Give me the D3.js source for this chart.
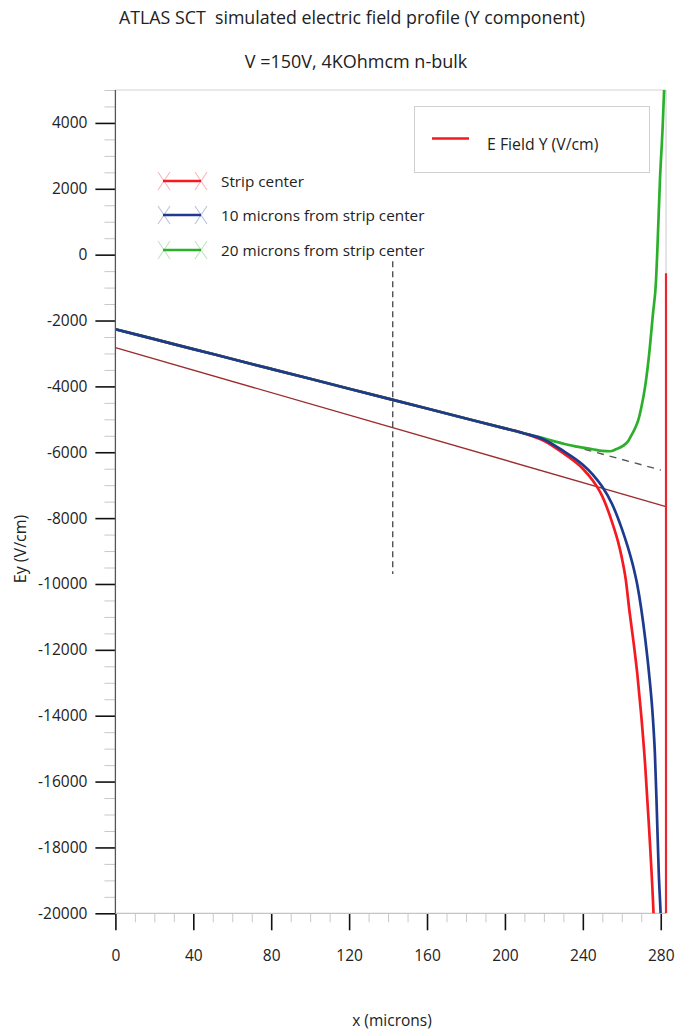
<!DOCTYPE html>
<html><head><meta charset="utf-8">
<script src="https://cdn.jsdelivr.net/npm/d3@7/dist/d3.min.js"></script>
<style>
body{margin:0;background:#fff}
text{font-family:"Open Sans",sans-serif;fill:#222;white-space:pre}
</style>
</head><body>
<svg id="chart" width="675" height="1030"></svg>
<script>
// ---------- data ----------
const titleLine1 = "ATLAS SCT  simulated electric field profile (Y component)";
const titleLine2 = "V =150V, 4KOhmcm n-bulk";
const xAxisTitle = "x (microns)";
const yAxisTitle = "Ey (V/cm)";

const xTicks = [0, 40, 80, 120, 160, 200, 240, 280];
const xTickLabels = ["0", "40", "80", "120", "160", "200", "240", "280"];
const yTicks = [4000, 2000, 0, -2000, -4000, -6000, -8000, -10000, -12000, -14000, -16000, -18000, -20000];
const yTickLabels = ["4000", "2000", "0", "-2000", "-4000", "-6000", "-8000", "-10000", "-12000", "-14000", "-16000", "-18000", "-20000"];

const seriesNames = ["Strip center", "10 microns from strip center", "20 microns from strip center"];
const boxLegendLabel = "E Field Y (V/cm)";

// strip center (red)
const stripX = [0, 20, 40, 60, 80, 100, 120, 140, 160, 180, 200, 210, 220, 230, 240, 245, 250, 255, 258, 260, 262, 264, 266, 268, 270, 272, 274, 276, 277];
const stripY = [-2265, -2566, -2867, -3168, -3469, -3770, -4071, -4372, -4673, -4974, -5275, -5430, -5650, -6030, -6500, -6850, -7340, -8120, -8700, -9200, -9850, -10850, -11750, -12750, -14000, -15500, -17400, -19600, -21000];
// strip center, edge of the sensor (red vertical)
const stripEdgeX = [282.7, 282.7];
const stripEdgeY = [-20000, -565];

// 10 microns from strip center (blue)
const tenX = [0, 20, 40, 60, 80, 100, 120, 140, 160, 180, 200, 210, 220, 230, 240, 245, 250, 255, 260, 263, 266, 268, 270, 272, 274, 276, 277, 278, 279, 280, 281];
const tenY = [-2265, -2566, -2867, -3168, -3469, -3770, -4071, -4372, -4673, -4974, -5275, -5430, -5610, -5960, -6380, -6670, -7050, -7570, -8320, -8860, -9500, -10040, -10760, -11650, -12720, -14100, -15150, -16900, -18800, -20100, -22000];

// 20 microns from strip center (green)
const twentyX = [0, 20, 40, 60, 80, 100, 120, 140, 160, 180, 200, 210, 220, 230, 237, 245, 250, 254, 257, 261, 263.5, 265, 267, 268.5, 270, 272, 274, 276, 277.6, 278.3, 279.6, 281, 281.7, 282.2];
const twentyY = [-2265, -2566, -2867, -3168, -3469, -3770, -4071, -4372, -4673, -4974, -5275, -5430, -5580, -5740, -5830, -5910, -5960, -5970, -5910, -5790, -5640, -5480, -5250, -5020, -4650, -4000, -3050, -1800, -770, 200, 2270, 3900, 4950, 5800];

// reference lines
const fitX = [0, 282.7];
const fitY = [-2823, -7650];
const extX = [228, 280];
const extY = [-5700, -6540];
const vlineX = [142.4, 142.4];
const vlineY = [-200, -9700];

// ---------- layout ----------
const svg = d3.select("#chart");
const L = 115.4, R = 666, T = 90, B = 913.3;
const x = d3.scaleLinear().domain([0, 282.7]).range([L, R]);
const y = d3.scaleLinear().domain([-20000, 5000]).range([B, T]);

const colors = ["#f41a1f", "#1d3a8e", "#2cb02c"];
const paleColors = ["#f6b8b8", "#b9c2de", "#bfe5bf"];

// titles
svg.append("text").attr("x", 352).attr("y", 24).attr("text-anchor", "middle")
  .style("font-size", "17.8px").text(titleLine1);
svg.append("text").attr("x", 356).attr("y", 68).attr("text-anchor", "middle")
  .style("font-size", "18px").text(titleLine2);

// frame top / right
svg.append("line").attr("x1", L).attr("x2", R).attr("y1", T).attr("y2", T).attr("stroke", "#d4d4d4").attr("stroke-width", 1.2);
svg.append("line").attr("x1", R).attr("x2", R).attr("y1", T).attr("y2", B).attr("stroke", "#d4d4d4").attr("stroke-width", 1.2);

// y axis minor ticks
const yMinor = d3.range(-20000, 5001, 500).filter(v => v % 2000 !== 0);
const yMinorAxis = d3.axisLeft(y).tickValues(yMinor).tickSize(11).tickFormat("");
const gyMinor = svg.append("g").attr("transform", `translate(${L},0)`).call(yMinorAxis);
gyMinor.select(".domain").remove();
gyMinor.selectAll("line").attr("stroke", "#c8c8c8").attr("stroke-width", 1);

// y axis major
const yAxis = d3.axisLeft(y).tickValues(yTicks).tickSize(20).tickPadding(8)
  .tickFormat((d, i) => yTickLabels[i]);
const gy = svg.append("g").attr("transform", `translate(${L},0)`).call(yAxis);
gy.select(".domain").remove();
gy.selectAll("line").attr("stroke", "#111").attr("stroke-width", 1.6);
gy.selectAll("text").style("font-size", "15.5px").attr("fill", "#222").style("font-family", "'Open Sans',sans-serif");

// x axis minor
const xMinor = d3.range(0, 281, 10).filter(v => v % 40 !== 0);
const xMinorAxis = d3.axisBottom(x).tickValues(xMinor).tickSize(9).tickFormat("");
const gxMinor = svg.append("g").attr("transform", `translate(0,${B})`).call(xMinorAxis);
gxMinor.select(".domain").remove();
gxMinor.selectAll("line").attr("stroke", "#c8c8c8").attr("stroke-width", 1);

// x axis major
const xAxis = d3.axisBottom(x).tickValues(xTicks).tickSize(17).tickPadding(20)
  .tickFormat((d, i) => xTickLabels[i]);
const gx = svg.append("g").attr("transform", `translate(0,${B})`).call(xAxis);
gx.select(".domain").remove();
gx.selectAll("line").attr("stroke", "#111").attr("stroke-width", 1.6);
gx.selectAll("text").style("font-size", "15.5px").attr("fill", "#222").style("font-family", "'Open Sans',sans-serif");

// axis lines
svg.append("line").attr("x1", L).attr("x2", R).attr("y1", B).attr("y2", B).attr("stroke", "#c4c4c4").attr("stroke-width", 1.2);
svg.append("line").attr("x1", L).attr("x2", L).attr("y1", T).attr("y2", B).attr("stroke", "#555").attr("stroke-width", 1.3);

// axis titles
svg.append("text").attr("x", 392).attr("y", 1026).attr("text-anchor", "middle")
  .style("font-size", "15.5px").text(xAxisTitle);
svg.append("text").attr("transform", "translate(26,549) rotate(-90)").attr("text-anchor", "middle")
  .style("font-size", "16px").text(yAxisTitle);

// clip
svg.append("clipPath").attr("id", "plotclip").append("rect")
  .attr("x", L).attr("y", T).attr("width", R - L + 2).attr("height", B - T);
const plot = svg.append("g").attr("clip-path", "url(#plotclip)");

const line = d3.line().x(d => x(d[0])).y(d => y(d[1]));
const smooth = d3.line().curve(d3.curveMonotoneX).x(d => x(d[0])).y(d => y(d[1]));
const zip = (xs, ys) => xs.map((v, i) => [v, ys[i]]);

// reference lines
plot.append("path").attr("d", line(zip(fitX, fitY))).attr("fill", "none")
  .attr("stroke", "#9b2c2e").attr("stroke-width", 1.3);
plot.append("path").attr("d", line(zip(extX, extY))).attr("fill", "none")
  .attr("stroke", "#555").attr("stroke-width", 1.4).attr("stroke-dasharray", "7,6");
plot.append("path").attr("d", line(zip(vlineX, vlineY))).attr("fill", "none")
  .attr("stroke", "#444").attr("stroke-width", 1.3).attr("stroke-dasharray", "6,4");

// series: red under, green, blue on top
plot.append("path").attr("d", line(zip(stripEdgeX, stripEdgeY))).attr("fill", "none")
  .attr("stroke", "#e8262e").attr("stroke-width", 2.2);
const series = [zip(stripX, stripY), zip(tenX, tenY), zip(twentyX, twentyY)];
[0, 2, 1].forEach(i => {
  plot.append("path").attr("d", smooth(series[i])).attr("fill", "none")
    .attr("stroke", colors[i]).attr("stroke-width", 2.7).attr("stroke-linejoin", "round");
});

// boxed legend
svg.append("rect").attr("x", 414.5).attr("y", 106.5).attr("width", 235).attr("height", 66)
  .attr("fill", "#fff").attr("stroke", "#d0d0d0").attr("stroke-width", 1);
svg.append("line").attr("x1", 432).attr("x2", 469).attr("y1", 138.5).attr("y2", 138.5)
  .attr("stroke", colors[0]).attr("stroke-width", 2.6);
svg.append("text").attr("x", 487).attr("y", 150).style("font-size", "15.8px").text(boxLegendLabel);

// series legend
const legY = [181, 215, 250];
seriesNames.forEach((name, i) => {
  const g = svg.append("g");
  const yy = legY[i];
  [164, 201].forEach(cx => {
    g.append("path").attr("d", `M${cx - 6},${yy - 9}L${cx + 6},${yy + 9}M${cx - 6},${yy + 9}L${cx + 6},${yy - 9}`)
      .attr("stroke", paleColors[i]).attr("stroke-width", 1.1).attr("fill", "none");
  });
  g.append("line").attr("x1", 163).attr("x2", 201).attr("y1", yy).attr("y2", yy)
    .attr("stroke", colors[i]).attr("stroke-width", 2.6);
  g.append("text").attr("x", 221).attr("y", yy + 6).style("font-size", "15.3px").text(name);
});
</script>
</body></html>
